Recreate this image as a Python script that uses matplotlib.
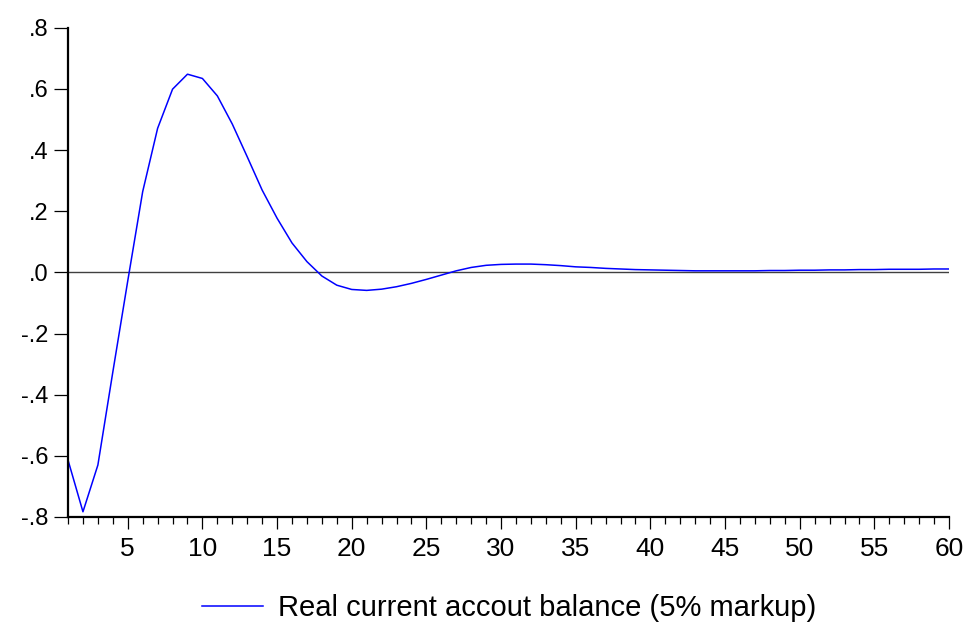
import matplotlib
matplotlib.use('Agg')
import matplotlib.pyplot as plt
from matplotlib.ticker import FixedLocator

# Impulse response, periods 1..60
periods = list(range(1, 61))
balance = [-0.614, -0.783, -0.630, -0.326, -0.028, 0.264, 0.471, 0.599, 0.648, 0.634,
           0.577, 0.485, 0.378, 0.269, 0.177, 0.096, 0.035, -0.012, -0.042, -0.056,
           -0.059, -0.055, -0.047, -0.036, -0.023, -0.009, 0.005, 0.016, 0.023, 0.026,
           0.027, 0.027, 0.025, 0.022, 0.018, 0.016, 0.013, 0.011, 0.009, 0.008,
           0.007, 0.006, 0.005, 0.005, 0.005, 0.005, 0.005, 0.006, 0.006, 0.007,
           0.007, 0.008, 0.008, 0.009, 0.009, 0.010, 0.010, 0.010, 0.011, 0.011]
series_label = 'Real current accout balance (5% markup)'

y_ticks = [-0.8, -0.6, -0.4, -0.2, 0.0, 0.2, 0.4, 0.6, 0.8]
y_tick_labels = ['-.8', '-.6', '-.4', '-.2', '.0', '.2', '.4', '.6', '.8']
x_ticks = [5, 10, 15, 20, 25, 30, 35, 40, 45, 50, 55, 60]

plt.rcParams['font.family'] = ['Liberation Sans', 'DejaVu Sans']

fig = plt.figure(figsize=(9.69, 6.24), dpi=100)
ax = fig.add_axes([0.0702, 0.1715, 0.9092, 0.7841])

# zero reference line
ax.axhline(0, color='#404040', lw=1.0, zorder=1)
line, = ax.plot(periods, balance, color='#0000ff', lw=1.1, label=series_label, zorder=2)

ax.set_xlim(1, 60)
ax.set_ylim(-0.8, 0.8)

ax.spines['top'].set_visible(False)
ax.spines['right'].set_visible(False)
ax.spines['left'].set_linewidth(1.6)
ax.spines['bottom'].set_linewidth(1.6)

ax.set_yticks(y_ticks)
ax.set_yticklabels(y_tick_labels)
ax.set_xticks(x_ticks)
ax.set_xticklabels([str(t) for t in x_ticks])
ax.xaxis.set_minor_locator(FixedLocator(periods))

ax.tick_params(axis='y', direction='out', length=10, width=0.9, pad=4, labelsize=17)
ax.tick_params(axis='x', which='major', direction='out', length=8.4, width=0.9, pad=6, labelsize=19)
ax.tick_params(axis='x', which='minor', direction='out', length=4.8, width=0.9)

fig.legend(handles=[line], loc='center', bbox_to_anchor=(0.525, 0.025), frameon=False,
           fontsize=21, handlelength=2.1, handletextpad=0.5)

fig.savefig('out.png', dpi=100)
